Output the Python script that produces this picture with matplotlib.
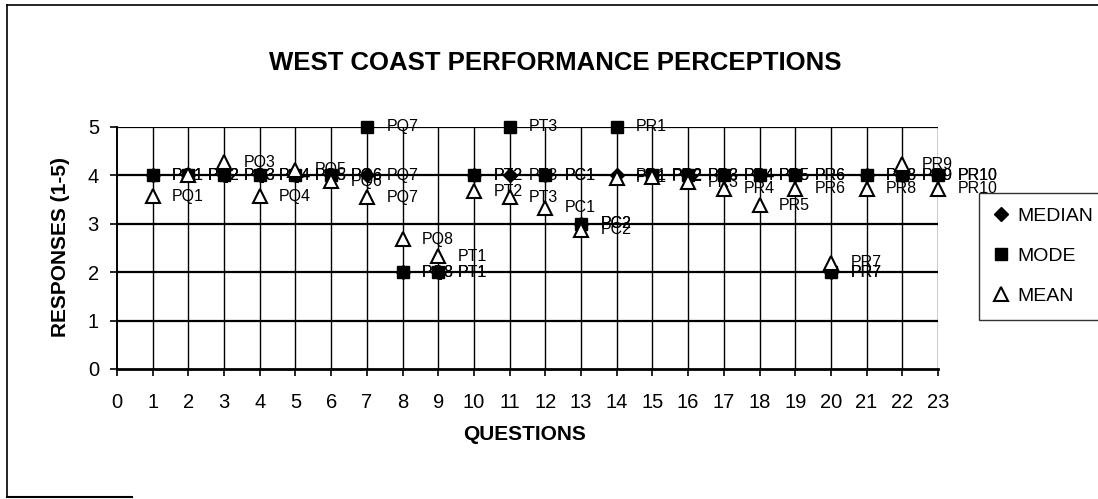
import matplotlib
matplotlib.use("Agg")
import matplotlib.pyplot as plt
from matplotlib.lines import Line2D

plt.rcParams['font.family'] = ['Liberation Sans', 'DejaVu Sans']

questions = list(range(1, 24))
codes = ["PQ1", "PQ2", "PQ3", "PQ4", "PQ5", "PQ6", "PQ7", "PQ8",
         "PT1", "PT2", "PT3", "PC1", "PC2",
         "PR1", "PR2", "PR3", "PR4", "PR5", "PR6", "PR7", "PR8", "PR9", "PR10"]
median = [4, 4, 4, 4, 4, 4, 4, 2, 2, 4, 4, 4, 3, 4, 4, 4, 4, 4, 4, 2, 4, 4, 4]
mode = [4, 4, 4, 4, 4, 4, 5, 2, 2, 4, 5, 4, 3, 5, 4, 4, 4, 4, 4, 2, 4, 4, 4]
mean = [3.57, 4.00, 4.27, 3.57, 4.12, 3.88, 3.55, 2.68, 2.33, 3.67, 3.55, 3.33,
        2.88, 3.95, 3.97, 3.86, 3.72, 3.38, 3.72, 2.20, 3.72, 4.23, 3.72]

W, H = 1098, 499
fig = plt.figure(figsize=(W / 100, H / 100), dpi=100)
fig.patch.set_facecolor('white')

# plot area in pixel terms
left, right, top, bottom = 117, 938, 127, 369
ax = fig.add_axes([left / W, 1 - bottom / H, (right - left) / W, (bottom - top) / H])
ax.set_xlim(0, 23)
ax.set_ylim(0, 5)
ax.set_xticks(range(0, 24))
ax.set_yticks(range(0, 6))
ax.tick_params(axis='both', direction='out', length=5, width=1.2, colors='black',
               labelsize=14.5)
ax.tick_params(axis='x', pad=12)
ax.tick_params(axis='y', pad=8)
for s in ['top', 'right']:
    ax.spines[s].set_visible(False)
ax.spines['left'].set_linewidth(1.4)
ax.spines['bottom'].set_linewidth(2.0)

# grid
for yv in range(1, 6):
    ax.axhline(yv, color='black', lw=1.6, zorder=1)
for xv in range(1, 24):
    ax.axvline(xv, color='black', lw=1.0, zorder=1)

series = [
    (median, dict(marker='D', markersize=7, markerfacecolor='black',
                  markeredgecolor='black'), 'MEDIAN'),
    (mode, dict(marker='s', markersize=9, markerfacecolor='black',
                markeredgecolor='black'), 'MODE'),
    (mean, dict(marker='^', markersize=9.5, markerfacecolor='white',
                markeredgecolor='black', markeredgewidth=1.5), 'MEAN'),
]

handles = []
for k, (vals, style, name) in enumerate(series):
    ax.plot(questions, vals, linestyle='none', zorder=4 + k, clip_on=False, **style)
    for q, v, c in zip(questions, vals, codes):
        ax.annotate(c, (q, v), xytext=(14, 0), textcoords='offset points',
                    va='center', ha='left', fontsize=11.5, zorder=3,
                    annotation_clip=False)
    handles.append(Line2D([], [], linestyle='none', label=name, **style))

leg = fig.legend(handles=handles, loc='upper left',
                 bbox_to_anchor=(979 / W, 1 - 193 / H),
                 bbox_transform=fig.transFigure, frameon=True, fancybox=False,
                 edgecolor='black', fontsize=14, handlelength=0.8,
                 handletextpad=0.4, labelspacing=1.15, borderpad=0.75,
                 borderaxespad=0)
leg.get_frame().set_linewidth(1.0)

fig.text(555 / W, 1 - 63 / H, "WEST COAST PERFORMANCE PERCEPTIONS",
         ha='center', va='center', fontsize=18.5, fontweight='bold')
fig.text(61 / W, 1 - 247 / H, "RESPONSES (1-5)", rotation=90,
         ha='center', va='center', fontsize=15, fontweight='bold')
fig.text(525 / W, 1 - 435 / H, "QUESTIONS", ha='center', va='center',
         fontsize=15, fontweight='bold')

# outer chart border
fig.add_artist(Line2D([7 / W, 7 / W], [1 - 5 / H, 1 - 497 / H],
                      transform=fig.transFigure, color='black', lw=1.2))
fig.add_artist(Line2D([7 / W, 1.0], [1 - 5 / H, 1 - 5 / H],
                      transform=fig.transFigure, color='black', lw=1.2))
fig.add_artist(Line2D([7 / W, 132 / W], [1 - 497 / H, 1 - 497 / H],
                      transform=fig.transFigure, color='black', lw=1.5))

fig.savefig("out.png", dpi=100)
